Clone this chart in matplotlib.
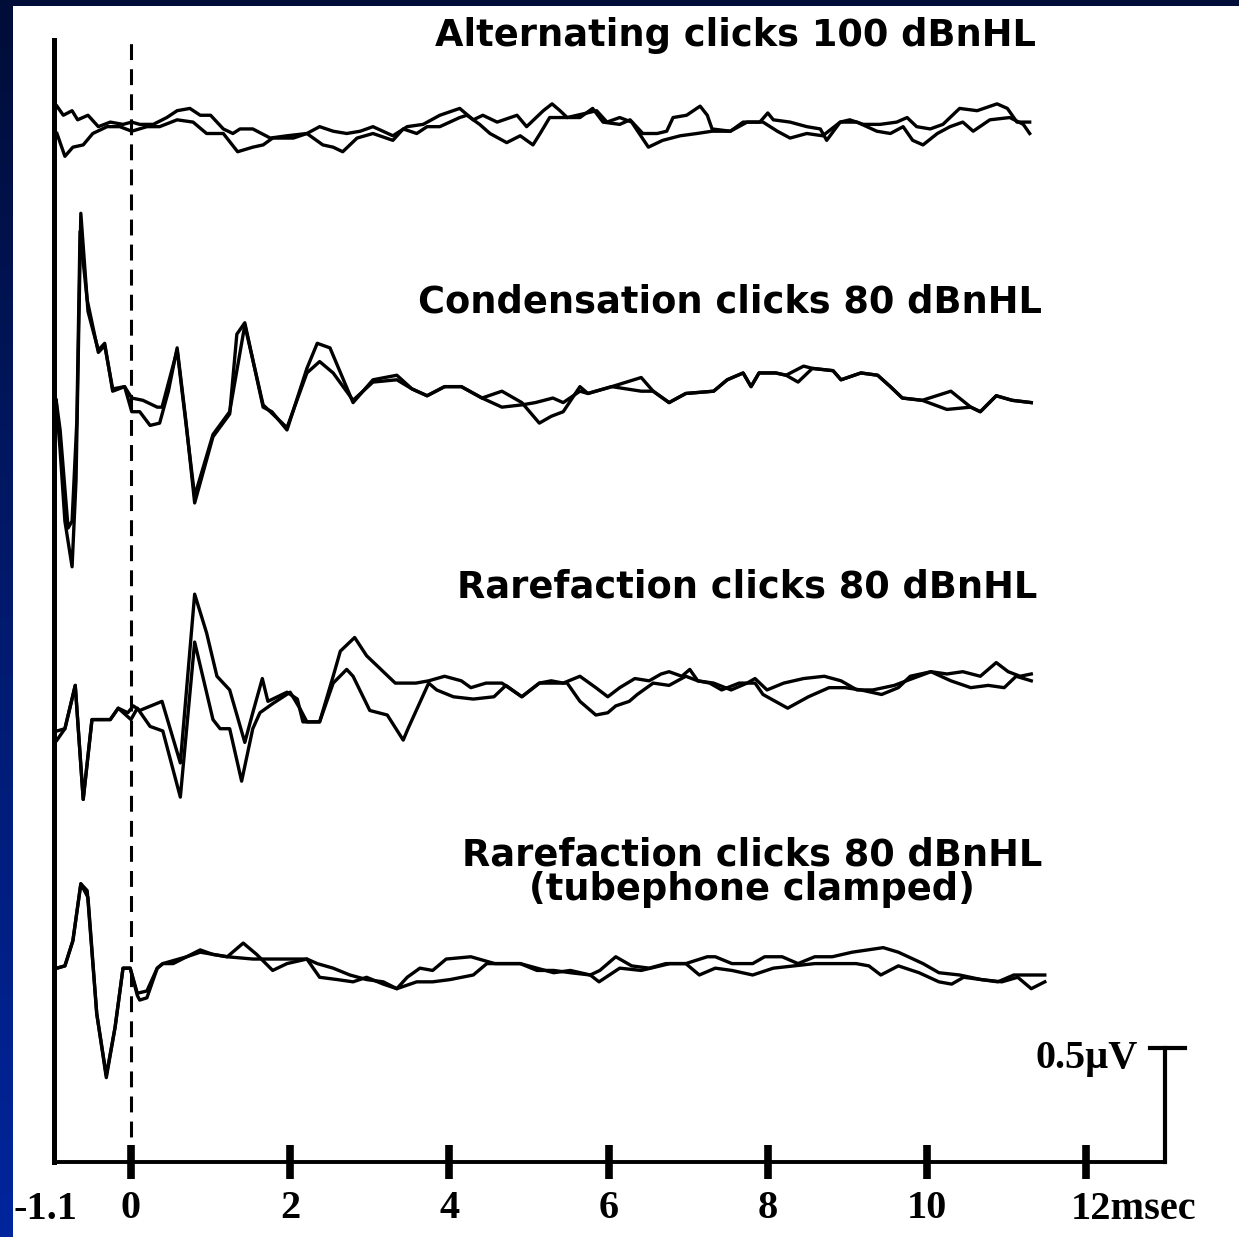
import numpy as np
import matplotlib.pyplot as plt
from matplotlib.colors import LinearSegmentedColormap
from matplotlib.patches import Rectangle

# time (ms) and amplitude (uV) of the two superimposed runs in each panel
alt_t1 = [-0.93, -0.85, -0.74, -0.67, -0.54, -0.41, -0.26, -0.10, 0.01, 0.11, 0.28, 0.45, 0.58, 0.74, 0.87,
          1.00, 1.16, 1.28, 1.37, 1.53, 1.75, 1.96, 2.21, 2.37, 2.54, 2.71, 2.88, 3.04, 3.29, 3.47,
          3.67, 3.88, 4.13, 4.30, 4.42, 4.60, 4.85, 4.97, 5.18, 5.29, 5.39, 5.48, 5.64, 5.80, 5.93,
          6.14, 6.27, 6.43, 6.61, 6.73, 6.81, 6.98, 7.15, 7.24, 7.30, 7.53, 7.69, 7.90, 8.00, 8.07,
          8.28, 8.49, 8.66, 8.74, 8.91, 9.03, 9.20, 9.41, 9.62, 9.75, 9.87, 10.04, 10.20, 10.41, 10.63,
          10.88, 11.01, 11.13, 11.29]
alt_v1 = [0.08, 0.04, 0.06, 0.02, 0.04, -0.01, 0.01, 0.0, 0.01, 0.0, 0.0, 0.03, 0.06, 0.07, 0.04,
          0.04, -0.02, -0.04, -0.02, -0.02, -0.06, -0.05, -0.04, -0.01, -0.03, -0.04, -0.03, -0.01, -0.05, -0.01,
          0.0, 0.04, 0.07, 0.02, 0.04, 0.01, 0.04, -0.01, 0.06, 0.09, 0.06, 0.03, 0.03, 0.07, 0.01,
          0.0, 0.02, -0.04, -0.04, -0.03, 0.03, 0.04, 0.08, 0.04, -0.02, -0.03, 0.01, 0.01, 0.05, 0.02,
          0.01, -0.01, -0.02, -0.07, 0.01, 0.02, 0.0, 0.0, 0.01, 0.03, -0.01, -0.02, 0.0, 0.07, 0.06,
          0.09, 0.07, 0.01, 0.01]
alt_t2 = [-0.93, -0.83, -0.73, -0.60, -0.48, -0.30, -0.14, 0.01, 0.20, 0.36, 0.58, 0.78, 0.95, 1.16, 1.34,
          1.53, 1.66, 1.78, 2.04, 2.21, 2.41, 2.54, 2.66, 2.84, 3.04, 3.29, 3.42, 3.59, 3.72, 3.88,
          4.13, 4.22, 4.38, 4.51, 4.72, 4.89, 5.05, 5.14, 5.26, 5.48, 5.73, 5.85, 5.98, 6.14, 6.29,
          6.50, 6.68, 6.90, 7.11, 7.30, 7.53, 7.74, 7.94, 8.12, 8.28, 8.49, 8.69, 8.91, 9.12, 9.37,
          9.54, 9.70, 9.82, 9.95, 10.13, 10.29, 10.45, 10.58, 10.79, 11.04, 11.21, 11.29]
alt_v2 = [-0.04, -0.14, -0.10, -0.09, -0.04, -0.01, -0.01, -0.03, -0.01, -0.01, 0.02, 0.01, -0.04, -0.04, -0.12,
          -0.10, -0.09, -0.06, -0.06, -0.04, -0.09, -0.10, -0.12, -0.06, -0.04, -0.07, -0.02, -0.04, -0.01, -0.01,
          0.03, 0.04, 0.0, -0.04, -0.08, -0.05, -0.09, -0.04, 0.03, 0.03, 0.05, 0.06, 0.01, 0.03, 0.01,
          -0.10, -0.07, -0.05, -0.04, -0.03, -0.03, 0.01, 0.01, -0.03, -0.06, -0.04, -0.05, 0.01, 0.01, -0.03,
          -0.04, -0.01, -0.07, -0.09, -0.04, -0.01, 0.01, -0.03, 0.02, 0.03, 0.0, -0.04]

cond_t1 = [-0.94, -0.89, -0.83, -0.74, -0.69, -0.63, -0.54, -0.48, -0.41, -0.33, -0.23, -0.08, 0.01, 0.11, 0.24,
           0.36, 0.47, 0.58, 0.69, 0.80, 1.03, 1.24, 1.33, 1.43, 1.66, 1.77, 1.96, 2.21, 2.34, 2.50,
           2.79, 3.04, 3.34, 3.53, 3.72, 3.94, 4.15, 4.41, 4.66, 4.91, 5.13, 5.28, 5.43, 5.64, 5.74,
           6.04, 6.41, 6.56, 6.76, 6.97, 7.32, 7.49, 7.69, 7.79, 7.89, 8.10, 8.23, 8.45, 8.56, 8.82,
           8.92, 9.17, 9.38, 9.54, 9.69, 9.94, 10.30, 10.55, 10.67, 10.87, 11.07, 11.31]
cond_v1 = [-0.02, -0.24, -0.55, -0.75, -0.37, 0.80, 0.37, 0.29, 0.20, 0.23, 0.02, 0.04, -0.07, -0.07, -0.13,
           -0.12, 0.02, 0.21, -0.11, -0.47, -0.18, -0.08, 0.27, 0.32, -0.05, -0.07, -0.15, 0.12, 0.23, 0.21,
           -0.03, 0.07, 0.09, 0.03, 0.0, 0.04, 0.04, -0.01, 0.02, -0.03, -0.12, -0.09, -0.07, 0.04, 0.01,
           0.04, 0.08, 0.02, -0.03, 0.01, 0.02, 0.07, 0.10, 0.04, 0.10, 0.10, 0.09, 0.13, 0.12, 0.11,
           0.07, 0.10, 0.09, 0.04, -0.01, -0.02, 0.02, -0.05, -0.07, 0.0, -0.02, -0.03]
cond_t2 = [-0.94, -0.89, -0.79, -0.74, -0.68, -0.64, -0.55, -0.41, -0.33, -0.23, -0.08, 0.01, 0.15, 0.33, 0.39,
           0.58, 0.80, 1.03, 1.24, 1.43, 1.66, 1.96, 2.21, 2.37, 2.54, 2.79, 3.04, 3.34, 3.53, 3.72,
           3.94, 4.15, 4.41, 4.66, 4.91, 5.08, 5.30, 5.43, 5.64, 5.74, 6.04, 6.41, 6.56, 6.76, 6.97,
           7.32, 7.49, 7.69, 7.79, 7.89, 8.10, 8.23, 8.38, 8.56, 8.82, 8.92, 9.17, 9.38, 9.54, 9.69,
           9.94, 10.25, 10.55, 10.67, 10.87, 11.07, 11.31]
cond_v2 = [-0.02, -0.15, -0.58, -0.55, -0.11, 0.72, 0.42, 0.19, 0.22, 0.03, 0.04, -0.01, -0.02, -0.05, -0.05,
           0.20, -0.44, -0.17, -0.07, 0.31, -0.04, -0.14, 0.10, 0.15, 0.10, -0.02, 0.06, 0.07, 0.03, 0.0,
           0.04, 0.04, -0.01, -0.05, -0.04, -0.03, -0.01, -0.03, 0.02, 0.01, 0.04, 0.02, 0.02, -0.03, 0.01,
           0.02, 0.07, 0.10, 0.04, 0.10, 0.10, 0.09, 0.06, 0.12, 0.11, 0.07, 0.10, 0.09, 0.04, -0.01,
           -0.02, -0.06, -0.05, -0.07, 0.0, -0.02, -0.03]

raref_t1 = [-0.93, -0.83, -0.70, -0.60, -0.49, -0.39, -0.26, -0.16, -0.04, 0.03, 0.11, 0.39, 0.62, 0.80, 0.95,
            1.08, 1.24, 1.43, 1.53, 1.65, 1.72, 1.96, 2.09, 2.16, 2.37, 2.54, 2.71, 2.79, 3.00, 3.22,
            3.42, 3.48, 3.74, 3.84, 4.05, 4.30, 4.56, 4.71, 4.91, 5.13, 5.33, 5.48, 5.64, 5.84, 5.99,
            6.09, 6.26, 6.36, 6.56, 6.76, 6.97, 7.12, 7.27, 7.42, 7.64, 7.84, 7.94, 8.25, 8.51, 8.77,
            8.97, 9.17, 9.43, 9.64, 9.79, 10.05, 10.30, 10.55, 10.77, 10.97, 11.12, 11.31]
raref_v1 = [-0.14, -0.13, 0.06, -0.44, -0.09, -0.09, -0.09, -0.04, -0.06, -0.03, -0.05, -0.01, -0.28, 0.46, 0.29,
            0.10, 0.04, -0.19, -0.06, 0.09, -0.01, 0.03, 0.0, -0.10, -0.10, 0.07, 0.13, 0.10, -0.05, -0.07,
            -0.18, -0.13, 0.07, 0.04, 0.01, 0.0, 0.01, 0.06, 0.01, 0.07, 0.07, 0.07, -0.01, -0.07, -0.06,
            -0.03, -0.01, 0.02, 0.07, 0.06, 0.10, 0.08, 0.07, 0.04, 0.07, 0.07, 0.02, -0.04, 0.01, 0.05,
            0.05, 0.04, 0.02, 0.05, 0.10, 0.12, 0.08, 0.05, 0.06, 0.05, 0.10, 0.08]
raref_t2 = [-0.93, -0.83, -0.70, -0.60, -0.49, -0.39, -0.26, -0.16, 0.0, 0.08, 0.24, 0.40, 0.62, 0.80, 1.03,
            1.12, 1.24, 1.39, 1.53, 1.62, 1.78, 2.00, 2.12, 2.21, 2.37, 2.54, 2.63, 2.81, 2.96, 3.17,
            3.32, 3.58, 3.74, 3.94, 4.15, 4.27, 4.46, 4.66, 4.91, 5.13, 5.28, 5.43, 5.64, 5.84, 5.99,
            6.14, 6.33, 6.51, 6.66, 6.76, 6.92, 7.02, 7.12, 7.32, 7.54, 7.74, 7.84, 7.99, 8.20, 8.45,
            8.71, 8.92, 9.12, 9.32, 9.59, 9.74, 10.05, 10.25, 10.45, 10.67, 10.87, 11.02, 11.17, 11.31]
raref_v2 = [-0.18, -0.13, 0.06, -0.44, -0.09, -0.09, -0.09, -0.04, -0.09, -0.04, -0.12, -0.14, -0.43, 0.25, -0.09,
            -0.13, -0.13, -0.36, -0.13, -0.06, -0.02, 0.03, -0.04, -0.10, -0.10, 0.10, 0.21, 0.27, 0.19, 0.12,
            0.07, 0.07, 0.08, 0.10, 0.08, 0.05, 0.07, 0.07, 0.01, 0.07, 0.08, 0.07, 0.10, 0.05, 0.01,
            0.05, 0.09, 0.08, 0.11, 0.12, 0.10, 0.13, 0.08, 0.07, 0.04, 0.07, 0.09, 0.04, 0.07, 0.09,
            0.10, 0.08, 0.04, 0.04, 0.06, 0.08, 0.12, 0.11, 0.12, 0.10, 0.16, 0.12, 0.10, 0.11]

tube_t1 = [-0.93, -0.83, -0.73, -0.63, -0.54, -0.43, -0.31, -0.20, -0.10, -0.01, 0.08, 0.11, 0.20, 0.33, 0.40,
           0.53, 0.70, 0.87, 1.03, 1.21, 1.41, 1.58, 1.78, 1.96, 2.21, 2.37, 2.59, 2.79, 2.96, 3.17,
           3.34, 3.47, 3.63, 3.79, 3.96, 4.27, 4.47, 4.57, 4.89, 5.10, 5.31, 5.52, 5.77, 5.89, 6.09,
           6.29, 6.51, 6.72, 6.97, 7.24, 7.34, 7.55, 7.81, 7.96, 8.18, 8.38, 8.59, 8.81, 9.06, 9.45,
           9.64, 9.95, 10.15, 10.41, 10.68, 10.89, 11.09, 11.26, 11.48]
tube_v1 = [-0.01, 0.0, 0.11, 0.36, 0.30, -0.21, -0.49, -0.27, -0.01, -0.01, -0.13, -0.15, -0.14, -0.01, 0.01,
           0.01, 0.04, 0.07, 0.05, 0.04, 0.10, 0.05, -0.02, 0.01, 0.03, -0.05, -0.06, -0.07, -0.05, -0.08,
           -0.10, -0.05, -0.01, -0.02, 0.03, 0.04, 0.02, 0.01, 0.01, -0.01, -0.03, -0.02, -0.04, -0.02, 0.04,
           0.0, -0.01, 0.01, 0.01, 0.04, 0.04, 0.01, 0.01, 0.04, 0.04, 0.01, 0.04, 0.04, 0.06, 0.08,
           0.06, 0.01, -0.03, -0.04, -0.06, -0.07, -0.04, -0.04, -0.04]
tube_t2 = [-0.93, -0.83, -0.73, -0.63, -0.55, -0.43, -0.31, -0.20, -0.10, -0.01, 0.08, 0.20, 0.33, 0.40, 0.70,
           0.87, 1.21, 1.53, 1.78, 2.21, 2.34, 2.54, 2.75, 2.96, 3.17, 3.34, 3.59, 3.79, 4.01, 4.30,
           4.47, 4.89, 5.10, 5.31, 5.52, 5.77, 5.88, 6.14, 6.41, 6.77, 6.97, 7.14, 7.34, 7.55, 7.81,
           8.07, 8.33, 8.59, 8.86, 9.11, 9.27, 9.42, 9.64, 9.90, 10.15, 10.31, 10.46, 10.68, 10.94, 11.14,
           11.31, 11.48]
tube_v2 = [-0.01, 0.0, 0.11, 0.36, 0.33, -0.21, -0.48, -0.27, -0.01, -0.01, -0.12, -0.11, -0.01, 0.01, 0.04,
           0.06, 0.04, 0.03, 0.03, 0.03, 0.01, -0.01, -0.04, -0.06, -0.07, -0.10, -0.07, -0.07, -0.06, -0.04,
           0.01, 0.01, -0.02, -0.02, -0.03, -0.04, -0.07, -0.01, -0.02, 0.01, 0.01, -0.04, -0.01, -0.02, -0.04,
           -0.01, 0.0, 0.01, 0.01, 0.01, 0.0, -0.04, 0.0, -0.03, -0.07, -0.08, -0.05, -0.06, -0.07, -0.05,
           -0.10, -0.07]

titles = ["Alternating clicks 100 dBnHL",
          "Condensation clicks 80 dBnHL",
          "Rarefaction clicks 80 dBnHL",
          "Rarefaction clicks 80 dBnHL\n(tubephone clamped)"]
xticks = [0, 2, 4, 6, 8, 10, 12]
xticklabels = ["0", "2", "4", "6", "8", "10", ""]
scale_uv = 0.5

# vertical stacking of the four panels (uV above the time axis)
offsets = [4.55, 3.36, 2.03, 0.86]
title_pos = [(7.59, 4.94), (7.52, 3.77), (7.74, 2.52), (7.80, 1.27)]

W, H = 1239, 1237
fig = plt.figure(figsize=(W / 100, H / 100), dpi=100)

# blue slide background with white panel
bg = fig.add_axes([0, 0, 1, 1])
bg.set_axis_off()
cmap = LinearSegmentedColormap.from_list("slide", ["#000d38", "#001a6e", "#00259c"])
bg.imshow(np.linspace(0, 1, 256).reshape(-1, 1), aspect="auto", cmap=cmap,
          extent=[0, 1, 0, 1], origin="upper")
bg.add_patch(Rectangle((13 / W, 0), 1, 1 - 6 / H, facecolor="white", edgecolor="none"))
bg.set_xlim(0, 1)
bg.set_ylim(0, 1)

ax = fig.add_axes([54 / W, (H - 1162) / H, (1165 - 54) / W, (1162 - 40) / H])
ax.set_facecolor("none")
ax.set_xlim(-0.967, 12.99)
ax.set_ylim(0, 4.92)

series = [(alt_t1, alt_v1, alt_t2, alt_v2),
          (cond_t1, cond_v1, cond_t2, cond_v2),
          (raref_t1, raref_v1, raref_t2, raref_v2),
          (tube_t1, tube_v1, tube_t2, tube_v2)]
for (t1, v1, t2, v2), off in zip(series, offsets):
    ax.plot(t1, np.array(v1) + off, color="black", lw=2.4, solid_joinstyle="round")
    ax.plot(t2, np.array(v2) + off, color="black", lw=2.4, solid_joinstyle="round")

title_font = dict(family="DejaVu Sans", weight="bold", size=26.5)
for txt, (tx, ty) in zip(titles, title_pos):
    ax.text(tx, ty, txt, ha="center", va="center", multialignment="center",
            linespacing=0.9, **title_font)

# stimulus onset
ax.axvline(0, color="black", lw=2.2, ls=(0, (5.2, 3.0)))

for side in ["top", "right"]:
    ax.spines[side].set_visible(False)
ax.spines["left"].set_linewidth(3.6)
ax.spines["bottom"].set_linewidth(2.8)

serif = dict(family="Liberation Serif", weight="bold", size=29)
ax.set_yticks([])
ax.set_xticks(xticks)
ax.set_xticklabels(xticklabels, fontdict=serif)
ax.tick_params(axis="x", direction="inout", length=24, width=5.5, pad=8)
ax.text(-1.08, -0.21, "-1.1", ha="center", va="center", **serif)
ax.text(11.80, -0.21, "12msec", ha="left", va="center", **serif)

# amplitude calibration bar
ax.plot([12.99, 12.99], [0, scale_uv], color="black", lw=3.0, clip_on=False)
ax.plot([12.80, 13.24], [scale_uv, scale_uv], color="black", lw=3.0, clip_on=False)
ax.text(12.65, scale_uv - 0.044, "0.5\u00b5V", ha="right", va="center", **serif)

fig.savefig("out.png", dpi=100)
